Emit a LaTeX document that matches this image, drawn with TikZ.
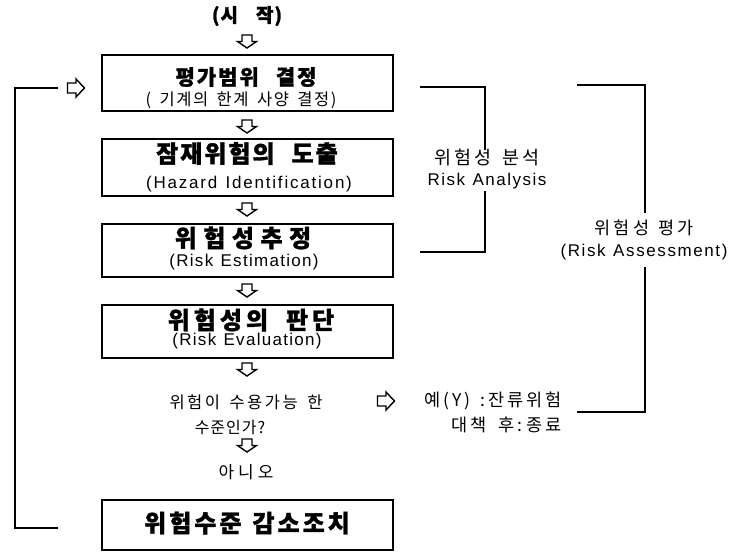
\documentclass[tikz,border=0pt]{standalone}
\usepackage{fontspec}
\setmainfont{Liberation Sans}
\newfontfamily\kr{Noto Sans CJK KR}[BoldFeatures={FakeBold=1.2}]
\newcommand\fs[1]{\fontsize{#1}{#1}\selectfont}
\makeatletter
\newcommand\ls[3]{\def\ls@sl{/}\@tfor\ls@x:=#3\do{\ifx\ls@x\ls@sl\hspace*{#2}\else\ls@x\kern#1\relax\fi}\kern-#1\relax}
\makeatother
\begin{document}
\begin{tikzpicture}[x=1pt,y=-1pt,
  box/.style={draw, line width=1.5pt, minimum width=291pt, inner sep=0pt},
  txt/.style={inner sep=0pt, outer sep=0pt},
  ln/.style={line width=1.2pt},
  arr/.style={draw, line width=1.4pt, line join=miter},
  dnarrow/.pic={\path[arr] (-5,-6) -- (5,-6) -- (5,0.5) -- (9.5,0.5) -- (0,7) -- (-9.5,0.5) -- (-5,0.5) -- cycle;},
  rtarrow/.pic={\path[arr] (-8.5,-5) -- (0,-5) -- (0,-9) -- (8.5,0) -- (0,9) -- (0,5) -- (-8.5,5) -- cycle;}]
\fill[white] (0,0) rectangle (731,554);
\useasboundingbox (0,0) rectangle (731,554);

% boxes
\node[box, minimum height=56pt] (b1) at (247.5,83) {};
\node[box, minimum height=57pt] (b2) at (247.5,167.5) {};
\node[box, minimum height=53pt] (b3) at (247.5,250.5) {};
\node[box, minimum height=53pt] (b4) at (247.5,331.5) {};
\node[box, minimum height=50pt] (b5) at (247.5,525) {};

% texts
\node[txt, font=\kr\bfseries\fs{19}] (start) at (247,16) {\ls{1pt}{17pt}{(시/작)}};
\node[txt, font=\kr\bfseries\fs{21}] (t1) at (246,77) {\ls{2pt}{15pt}{평가범위/결정}};
\node[txt, font=\kr\fs{16.5}] (s1) at (241,100) {\ls{1.5pt}{7pt}{(/기계의/한계/사양/결정)}};
\node[txt, font=\kr\bfseries\fs{24}] (t2) at (247,153.5) {\ls{2pt}{15pt}{잠재위험의/도출}};
\node[txt, font=\fs{17}] (s2) at (249,184) {\ls{1.8pt}{6.5pt}{(Hazard/Identification)}};
\node[txt, font=\kr\bfseries\fs{24}] (t3) at (243,238) {\ls{6.5pt}{0pt}{위험성추정}};
\node[txt, font=\fs{17}] (s3) at (244,262) {\ls{1.3pt}{6pt}{(Risk/Estimation)}};
\node[txt, font=\kr\bfseries\fs{24}] (t4) at (251,320) {\ls{4pt}{14pt}{위험성의/판단}};
\node[txt, font=\fs{17}] (s4) at (247,341) {\ls{1.3pt}{6pt}{(Risk/Evaluation)}};
\node[txt, font=\kr\bfseries\fs{24}] (t5) at (247,523) {\ls{3pt}{8pt}{위험수준/감소조치}};

\node[txt, font=\kr\fs{16.5}] (q1) at (246,402) {\ls{2.5pt}{7pt}{위험이/수용가능/한}};
\node[txt, font=\kr\fs{16}] (q2) at (230,428) {\ls{1pt}{0pt}{수준인가?}};
\node[txt, font=\kr\fs{17}] (no) at (246,472) {\ls{4pt}{0pt}{아니오}};
\node[txt, font=\kr\fs{17.5}, anchor=west] (yes1) at (424,401) {\ls{3pt}{7pt}{예(Y)/:잔류위험}};
\node[txt, font=\kr\fs{17.5}, anchor=west] (yes2) at (451,425) {\ls{3.5pt}{8pt}{대책/후:종료}};

\node[txt, font=\kr\fs{18.5}] (ra1) at (487,157) {\ls{3pt}{8pt}{위험성/분석}};
\node[txt, font=\fs{17}] (ra2) at (487,181) {\ls{1.5pt}{6pt}{Risk/Analysis}};
\node[txt, font=\kr\fs{17.5}] (rs1) at (644,228) {\ls{3.5pt}{5pt}{위험성/평가}};
\node[txt, font=\fs{17}] (rs2) at (644,252) {\ls{1.6pt}{6pt}{(Risk/Assessment)}};

% hollow arrows
\pic at (247,41) {dnarrow};
\pic at (247,126) {dnarrow};
\pic at (247,209) {dnarrow};
\pic at (247,290) {dnarrow};
\pic at (247,369) {dnarrow};
\pic at (247,445) {dnarrow};
\pic at (76,88) {rtarrow};
\pic at (386,401) {rtarrow};

% feedback line
\coordinate (fbT) at (58,88);
\coordinate (fbB) at (58,528);
\draw[ln] (fbB) -- (15,528) -- (15,88) -- (fbT);

% brackets
\coordinate (raA) at (420,87);
\coordinate (raB) at (485,87);
\coordinate (raC) at (485,150);
\coordinate (raD) at (485,191);
\coordinate (raE) at (485,252);
\coordinate (raF) at (420,252);
\draw[ln] (raA) -- (raB) -- (raC);
\draw[ln] (raD) -- (raE) -- (raF);
\coordinate (rsA) at (577,85);
\coordinate (rsB) at (645,85);
\coordinate (rsC) at (645,213);
\coordinate (rsD) at (645,267);
\coordinate (rsE) at (645,412);
\coordinate (rsF) at (577,412);
\draw[ln] (rsA) -- (rsB) -- (rsC);
\draw[ln] (rsD) -- (rsE) -- (rsF);
\end{tikzpicture}
\end{document}
